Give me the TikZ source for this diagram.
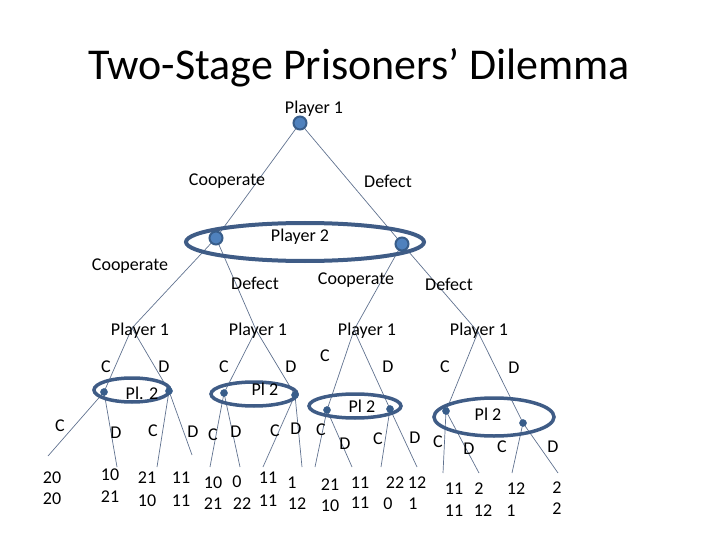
\documentclass[tikz,border=0pt]{standalone}
\usepackage{fontspec}
\setmainfont{Carlito}
\definecolor{dotfill}{HTML}{4F81BD}
\definecolor{dotline}{HTML}{385D8A}
\definecolor{ellline}{HTML}{3F5C86}
\definecolor{treeline}{HTML}{60728F}
\begin{document}
\begin{tikzpicture}[x=1pt,y=-1pt,
  lbl/.style={inner sep=0pt,font=\fontsize{18}{21}\selectfont},
  edge/.style={draw=treeline,line width=0.7pt},
  bigdot/.style={circle,fill=dotfill,draw=dotline,line width=2pt,minimum size=13pt,inner sep=0pt},
  smalldot/.style={circle,fill=dotline,draw=dotline,line width=0.5pt,minimum size=7pt,inner sep=0pt},
  infoset/.style={draw=ellline,line width=4pt},
  infosetsm/.style={draw=ellline,line width=3.5pt}]
\useasboundingbox (0,0) rectangle (720,540);
% positions
\coordinate (r) at (300,123);
\coordinate (p2a) at (216,238);
\coordinate (p2b) at (402,244);
\coordinate (A1) at (132,328);
\coordinate (A2) at (256,330);
\coordinate (A3) at (354,330);
\coordinate (A4) at (478,332);
\coordinate (a1) at (104,392);
\coordinate (b1) at (169,391);
\coordinate (a2) at (224,393);
\coordinate (b2) at (295,395);
\coordinate (a3) at (327,410);
\coordinate (b3) at (390,409);
\coordinate (a4) at (446,411);
\coordinate (b4) at (523,423);
\coordinate (l1a) at (48,456);
\coordinate (l1b) at (117,467);
\coordinate (l1c) at (157,467);
\coordinate (l1d) at (192,455);
\coordinate (l2a) at (210,467);
\coordinate (l2b) at (240,467);
\coordinate (l2c) at (263,467);
\coordinate (l2d) at (302,467);
\coordinate (l3a) at (315,467);
\coordinate (l3b) at (352,467);
\coordinate (l3c) at (381,467);
\coordinate (l3d) at (417,467);
\coordinate (l4a) at (443,473);
\coordinate (l4b) at (479,473);
\coordinate (l4c) at (512,473);
\coordinate (l4d) at (558,473);
% tree edges
\draw[edge] (r) -- (p2a);
\draw[edge] (r) -- (p2b);
\draw[edge] (p2a) -- (A1);
\draw[edge] (p2a) -- (A2);
\draw[edge] (p2b) -- (A3);
\draw[edge] (p2b) -- (A4);
\draw[edge] (A1) -- (a1);
\draw[edge] (A1) -- (b1);
\draw[edge] (A2) -- (a2);
\draw[edge] (A2) -- (b2);
\draw[edge] (A3) -- (a3);
\draw[edge] (A3) -- (b3);
\draw[edge] (A4) -- (a4);
\draw[edge] (A4) -- (b4);
\draw[edge] (a1) -- (l1a);
\draw[edge] (a1) -- (l1b);
\draw[edge] (b1) -- (l1c);
\draw[edge] (b1) -- (l1d);
\draw[edge] (a2) -- (l2a);
\draw[edge] (a2) -- (l2b);
\draw[edge] (b2) -- (l2c);
\draw[edge] (b2) -- (l2d);
\draw[edge] (a3) -- (l3a);
\draw[edge] (a3) -- (l3b);
\draw[edge] (b3) -- (l3c);
\draw[edge] (b3) -- (l3d);
\draw[edge] (a4) -- (l4a);
\draw[edge] (a4) -- (l4b);
\draw[edge] (b4) -- (l4c);
\draw[edge] (b4) -- (l4d);
% information sets
\draw[infoset] (305,242) ellipse [x radius=119, y radius=19];
\draw[infosetsm] (132,390) ellipse [x radius=38, y radius=12];
\draw[infosetsm] (254,394) ellipse [x radius=43, y radius=12];
\draw[infosetsm] (355,406) ellipse [x radius=46, y radius=12];
\draw[infosetsm] (494,417) ellipse [x radius=60, y radius=19];
% decision dots
\node[bigdot] (nr) at (r) {};
\node[bigdot] (np2a) at (p2a) {};
\node[bigdot] (np2b) at (p2b) {};
\node[smalldot] (na1) at (a1) {};
\node[smalldot] (nb1) at (b1) {};
\node[smalldot] (na2) at (a2) {};
\node[smalldot] (nb2) at (b2) {};
\node[smalldot] (na3) at (a3) {};
\node[smalldot] (nb3) at (b3) {};
\node[smalldot] (na4) at (a4) {};
\node[smalldot] (nb4) at (b4) {};
% title
\node[inner sep=0pt,font=\fontsize{44}{52}\selectfont] (title) at (359,68) {Two-Stage Prisoners’ Dilemma};
% labels
\node[lbl] (t1) at (314,109) {Player 1};
\node[lbl] (t2) at (227,181) {Cooperate};
\node[lbl] (t3) at (388,181) {Defect};
\node[lbl] (t4) at (300,237) {Player 2};
\node[lbl] (t5) at (130,266) {Cooperate};
\node[lbl] (t6) at (255,283) {Defect};
\node[lbl] (t7) at (356,280) {Cooperate};
\node[lbl] (t8) at (449,284) {Defect};
\node[lbl] (q1) at (140,331) {Player 1};
\node[lbl] (q2) at (258,331) {Player 1};
\node[lbl] (q3) at (367,331) {Player 1};
\node[lbl] (q4) at (479,331) {Player 1};
\node[lbl] (c1) at (106,367) {C};
\node[lbl] (d1) at (164,367) {D};
\node[lbl] (c2) at (224,367) {C};
\node[lbl] (d2) at (291,367) {D};
\node[lbl] (c3) at (325,356) {C};
\node[lbl] (d3) at (388,367) {D};
\node[lbl] (c4) at (445,367) {C};
\node[lbl] (d4) at (514,368) {D};
\node[lbl] (pl1) at (142,393) {Pl. 2};
\node[lbl] (pl2) at (265,389) {Pl 2};
\node[lbl] (pl3) at (362,406) {Pl 2};
\node[lbl] (pl4) at (488,414) {Pl 2};
% leaf action labels
\node[lbl] (e1) at (60,426) {C};
\node[lbl] (e2) at (116,433) {D};
\node[lbl] (e3) at (153,431) {C};
\node[lbl] (e4) at (193,432) {D};
\node[lbl] (e5) at (213,435) {C};
\node[lbl] (e6) at (236,432) {D};
\node[lbl] (e7) at (275,431) {C};
\node[lbl] (e8) at (296,429) {D};
\node[lbl] (e9) at (321,430) {C};
\node[lbl] (e10) at (345,444) {D};
\node[lbl] (e11) at (378,439) {C};
\node[lbl] (e12) at (415,438) {D};
\node[lbl] (e13) at (438,442) {C};
\node[lbl] (e14) at (469,449) {D};
\node[lbl] (e15) at (502,447) {C};
\node[lbl] (e16) at (553,447) {D};
% payoffs
\node[lbl] (u1) at (52,478) {20};   \node[lbl] (v1) at (52,499) {20};
\node[lbl] (u2) at (110,475) {10};  \node[lbl] (v2) at (110,497) {21};
\node[lbl] (u3) at (147,478) {21};  \node[lbl] (v3) at (147,501) {10};
\node[lbl] (u4) at (181,478) {11};  \node[lbl] (v4) at (181,501) {11};
\node[lbl] (u5) at (213,483) {10};  \node[lbl] (v5) at (213,504) {21};
\node[lbl] (u6) at (237,482) {0};   \node[lbl] (v6) at (242,504) {22};
\node[lbl] (u7) at (268,478) {11};  \node[lbl] (v7) at (268,501) {11};
\node[lbl] (u8) at (292,483) {1};   \node[lbl] (v8) at (297,504) {12};
\node[lbl] (u9) at (330,485) {21};  \node[lbl] (v9) at (330,506) {10};
\node[lbl] (u10) at (360,483) {11}; \node[lbl] (v10) at (360,503) {11};
\node[lbl] (u11) at (395,483) {22}; \node[lbl] (v11) at (388,504) {0};
\node[lbl] (u12) at (417,483) {12}; \node[lbl] (v12) at (413,504) {1};
\node[lbl] (u13) at (454,489) {11}; \node[lbl] (v13) at (454,511) {11};
\node[lbl] (u14) at (479,489) {2};  \node[lbl] (v14) at (483,511) {12};
\node[lbl] (u15) at (516,489) {12}; \node[lbl] (v15) at (511,511) {1};
\node[lbl] (u16) at (557,488) {2};  \node[lbl] (v16) at (557,509) {2};
\end{tikzpicture}
\end{document}
